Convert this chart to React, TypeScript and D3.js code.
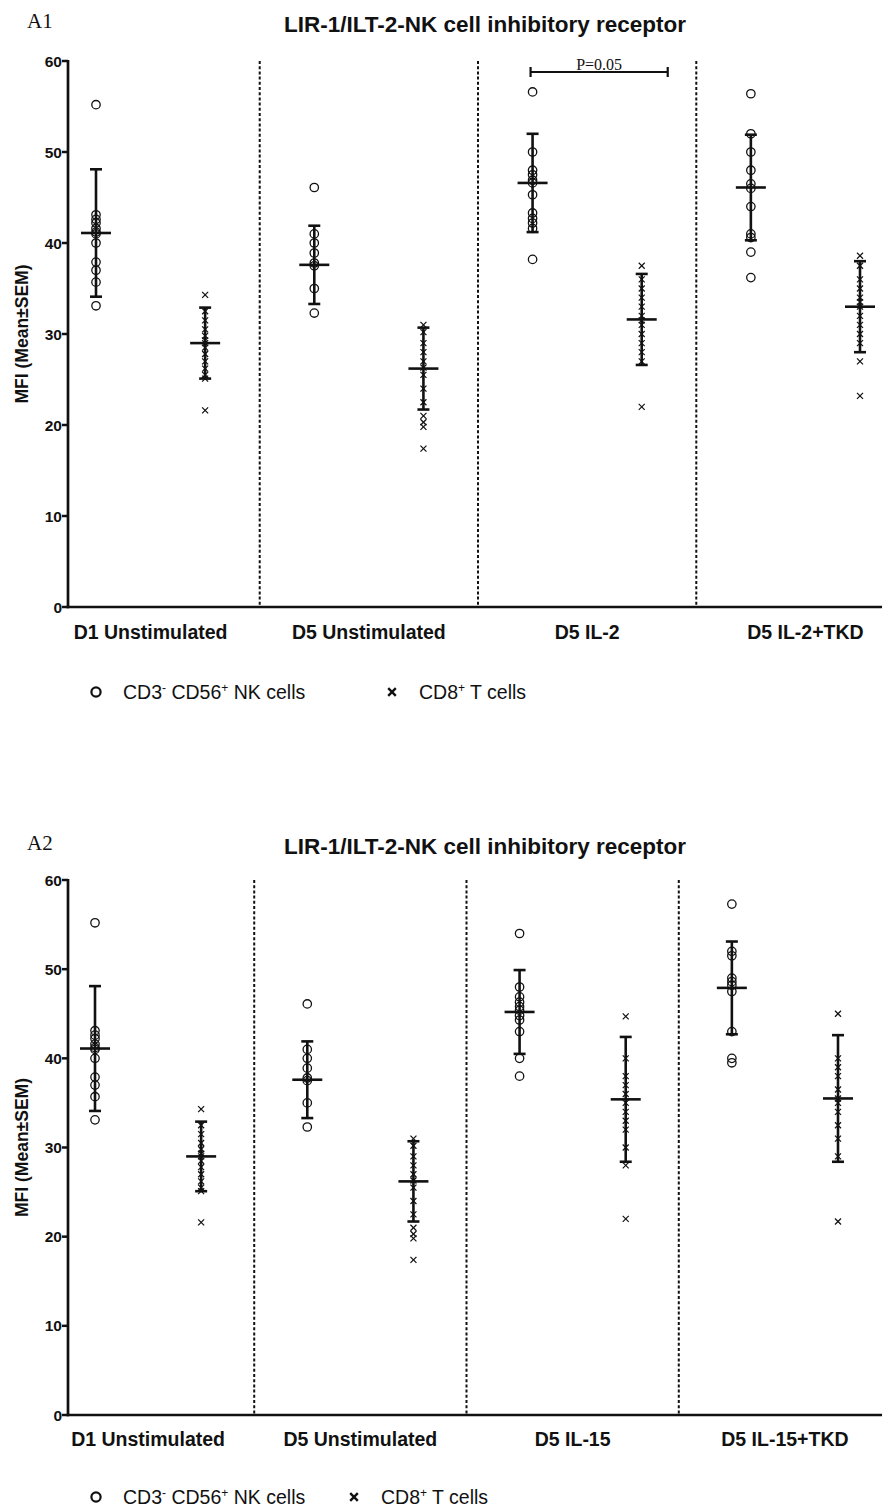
import React from "react";
import * as d3 from "d3";

// ---------------- DATA ----------------
const yTicks = [0, 10, 20, 30, 40, 50, 60];

// Panel A1
const a1Groups = ["D1 Unstimulated", "D5 Unstimulated", "D5 IL-2", "D5 IL-2+TKD"];
const a1NK = [
  [55.2, 43.1, 42.6, 42.2, 41.6, 41.2, 41.0, 40.0, 37.9, 37.0, 35.7, 33.1],
  [46.1, 41.0, 40.0, 38.9, 37.8, 37.5, 35.0, 32.3],
  [56.6, 50.0, 48.0, 47.5, 46.9, 46.6, 45.3, 43.3, 42.7, 42.2, 41.6, 38.2],
  [56.4, 52.0, 50.0, 48.0, 46.5, 46.0, 44.0, 41.0, 40.6, 39.0, 36.2],
];
const a1CD8 = [
  [34.3, 32.5, 31.5, 30.5, 29.8, 29.3, 29.0, 28.5, 27.8, 27.0, 26.2, 25.5, 25.1, 21.6],
  [31.0, 30.2, 29.0, 28.0, 27.0, 26.3, 25.5, 24.0, 22.5, 21.0, 20.3, 19.8, 17.4],
  [37.5, 36.0, 35.0, 34.0, 33.0, 32.0, 31.5, 31.0, 30.0, 29.0, 28.0, 27.0, 22.0],
  [38.6, 37.5, 36.0, 35.0, 34.0, 33.5, 33.0, 32.0, 31.0, 30.0, 29.0, 27.0, 23.2],
];
const a1NKMean = [41.1, 37.6, 46.6, 46.1];
const a1NKErr = [7.0, 4.3, 5.4, 5.8];
const a1CD8Mean = [29.0, 26.2, 31.6, 33.0];
const a1CD8Err = [3.9, 4.5, 5.0, 5.0];
const a1PText = "P=0.05";

// Panel A2
const a2Groups = ["D1 Unstimulated", "D5 Unstimulated", "D5 IL-15", "D5 IL-15+TKD"];
const a2NK = [
  [55.2, 43.1, 42.6, 42.2, 41.6, 41.2, 41.0, 40.0, 37.9, 37.0, 35.7, 33.1],
  [46.1, 41.0, 40.0, 38.9, 37.8, 37.5, 35.0, 32.3],
  [54.0, 48.0, 46.9, 46.3, 45.8, 45.4, 44.8, 44.3, 43.0, 40.0, 38.0],
  [57.3, 52.0, 51.5, 49.0, 48.6, 48.2, 47.5, 43.0, 40.0, 39.5],
];
const a2CD8 = [
  [34.3, 32.5, 31.5, 30.5, 29.8, 29.3, 29.0, 28.5, 27.8, 27.0, 26.2, 25.5, 25.1, 21.6],
  [31.0, 30.2, 29.0, 28.0, 27.0, 26.3, 25.5, 24.0, 22.5, 21.0, 20.3, 19.8, 17.4],
  [44.7, 40.0, 38.0, 37.0, 36.0, 35.0, 34.0, 33.0, 32.0, 30.0, 28.0, 22.0],
  [45.0, 40.0, 39.0, 38.0, 36.5, 35.5, 35.0, 34.0, 32.5, 31.0, 29.0, 21.7],
];
const a2NKMean = [41.1, 37.6, 45.2, 47.9];
const a2NKErr = [7.0, 4.3, 4.7, 5.2];
const a2CD8Mean = [29.0, 26.2, 35.4, 35.5];
const a2CD8Err = [3.9, 4.5, 7.0, 7.1];

const TITLE = "LIR-1/ILT-2-NK cell inhibitory receptor";
const YLABEL = "MFI (Mean\u00B1SEM)";

// ---------------- DRAWING ----------------
const SANS = "'Liberation Sans', Arial, sans-serif";
const SERIF = "'Liberation Serif', 'Times New Roman', serif";
const INK = "#111";

type PanelProps = {
  tag: string;
  groups: string[];
  nk: number[][];
  cd8: number[][];
  nkMean: number[];
  nkErr: number[];
  cd8Mean: number[];
  cd8Err: number[];
  yBottom: number;
  yTop: number;
  xFirst: number;
  xLast: number;
  titleY: number;
  catY: number;
  legendY: number;
  legendCrossX: number;
  pval?: string;
};

function Circle({ x, y, r = 4.2, sw = 1.3 }: any) {
  return <circle cx={x} cy={y} r={r} fill="none" stroke={INK} strokeWidth={sw} />;
}
function Cross({ x, y, s = 3, sw = 1.2 }: any) {
  return (
    <g stroke={INK} strokeWidth={sw}>
      <line x1={x - s} y1={y - s} x2={x + s} y2={y + s} />
      <line x1={x - s} y1={y + s} x2={x + s} y2={y - s} />
    </g>
  );
}

function Panel(p: PanelProps) {
  const axisX = 68;
  const y = d3.scaleLinear().domain([0, 60]).range([p.yBottom, p.yTop]);
  const x = d3.scaleLinear().domain([0, 7]).range([p.xFirst, p.xLast]);
  const cx = (g: number, s: number) => x(g * 2 + s);
  const seps = [0, 1, 2].map((g) => (cx(g, 1) + cx(g + 1, 0)) / 2);

  const errBar = (xc: number, m: number, e: number, key: string) => (
    <g key={key} stroke={INK} strokeWidth={2.6}>
      <line x1={xc} x2={xc} y1={y(m + e)} y2={y(m - e)} />
      <line x1={xc - 6} x2={xc + 6} y1={y(m + e)} y2={y(m + e)} />
      <line x1={xc - 6} x2={xc + 6} y1={y(m - e)} y2={y(m - e)} />
      <line x1={xc - 15} x2={xc + 15} y1={y(m)} y2={y(m)} />
    </g>
  );

  return (
    <g>
      <text x={27} y={p.titleY - 4} fontFamily={SERIF} fontSize={21} fill={INK}>
        {p.tag}
      </text>
      <text x={485} y={p.titleY} textAnchor="middle" fontFamily={SANS} fontWeight="bold" fontSize={22.5} fill={INK}>
        {TITLE}
      </text>
      {seps.map((sx, i) => (
        <line key={"s" + i} x1={sx} x2={sx} y1={y(60)} y2={y(0)} stroke={INK} strokeWidth={2} strokeDasharray="3,2.2" />
      ))}
      <line x1={axisX} x2={axisX} y1={y(60) - 1} y2={y(0) + 1.3} stroke={INK} strokeWidth={2.7} />
      <line x1={axisX - 1.3} x2={882} y1={y(0)} y2={y(0)} stroke={INK} strokeWidth={2.7} />
      {yTicks.map((t) => (
        <g key={t}>
          <line x1={axisX - 6} x2={axisX} y1={y(t)} y2={y(t)} stroke={INK} strokeWidth={2.5} />
          <text x={axisX - 6} y={y(t) + 5.5} textAnchor="end" fontFamily={SANS} fontWeight="bold" fontSize={15.5} fill={INK}>
            {t}
          </text>
        </g>
      ))}
      <text
        transform={`translate(${28},${(y(0) + y(60)) / 2}) rotate(-90)`}
        textAnchor="middle"
        fontFamily={SANS}
        fontWeight="bold"
        fontSize={17.5}
        fill={INK}
      >
        {YLABEL}
      </text>
      {p.groups.map((g, i) => (
        <text key={g} x={(cx(i, 0) + cx(i, 1)) / 2} y={p.catY} textAnchor="middle" fontFamily={SANS} fontWeight="bold" fontSize={19.5} fill={INK}>
          {g}
        </text>
      ))}
      {p.nk.map((vals, g) =>
        vals.map((v, j) => <Circle key={`n${g}-${j}`} x={cx(g, 0)} y={y(v)} />)
      )}
      {p.cd8.map((vals, g) =>
        vals.map((v, j) => <Cross key={`c${g}-${j}`} x={cx(g, 1)} y={y(v)} />)
      )}
      {p.nkMean.map((m, g) => errBar(cx(g, 0), m, p.nkErr[g], "en" + g))}
      {p.cd8Mean.map((m, g) => errBar(cx(g, 1), m, p.cd8Err[g], "ec" + g))}
      {p.pval && (
        <g>
          <line x1={cx(2, 0) - 2} x2={cx(2, 1) + 26} y1={72} y2={72} stroke={INK} strokeWidth={2.2} />
          <line x1={cx(2, 0) - 2} x2={cx(2, 0) - 2} y1={67} y2={77} stroke={INK} strokeWidth={2.2} />
          <line x1={cx(2, 1) + 26} x2={cx(2, 1) + 26} y1={67} y2={77} stroke={INK} strokeWidth={2.2} />
          <text x={(cx(2, 0) + cx(2, 1) + 24) / 2} y={69.5} textAnchor="middle" fontFamily={SERIF} fontSize={16} fill={INK}>
            {p.pval}
          </text>
        </g>
      )}
      <Circle x={96} y={p.legendY} r={4.6} sw={2.2} />
      <text x={123} y={p.legendY + 7} fontFamily={SANS} fontSize={19.5} fill={INK}>
        CD3<tspan fontSize={12} dy={-7.5}>-</tspan>
        <tspan dy={7.5}> CD56</tspan>
        <tspan fontSize={12} dy={-7.5}>+</tspan>
        <tspan dy={7.5}> NK cells</tspan>
      </text>
      <Cross x={p.legendCrossX} y={p.legendY} s={3.8} sw={2.4} />
      <text x={p.legendCrossX + 27} y={p.legendY + 7} fontFamily={SANS} fontSize={19.5} fill={INK}>
        CD8<tspan fontSize={12} dy={-7.5}>+</tspan>
        <tspan dy={7.5}> T cells</tspan>
      </text>
    </g>
  );
}

export default function App() {
  return (
    <svg
      width={882}
      height={1509}
      viewBox="0 0 882 1509"
      style={{ position: "absolute", left: 0, top: 0, background: "#fff" }}
    >
      <rect width={882} height={1509} fill="#fff" />
      <Panel
        tag="A1"
        groups={a1Groups}
        nk={a1NK}
        cd8={a1CD8}
        nkMean={a1NKMean}
        nkErr={a1NKErr}
        cd8Mean={a1CD8Mean}
        cd8Err={a1CD8Err}
        yBottom={607}
        yTop={61}
        xFirst={96}
        xLast={860}
        titleY={32}
        catY={639}
        legendY={692}
        legendCrossX={392}
        pval={a1PText}
      />
      <Panel
        tag="A2"
        groups={a2Groups}
        nk={a2NK}
        cd8={a2CD8}
        nkMean={a2NKMean}
        nkErr={a2NKErr}
        cd8Mean={a2CD8Mean}
        cd8Err={a2CD8Err}
        yBottom={1415}
        yTop={880}
        xFirst={95}
        xLast={838}
        titleY={854}
        catY={1446}
        legendY={1497}
        legendCrossX={354}
      />
    </svg>
  );
}
